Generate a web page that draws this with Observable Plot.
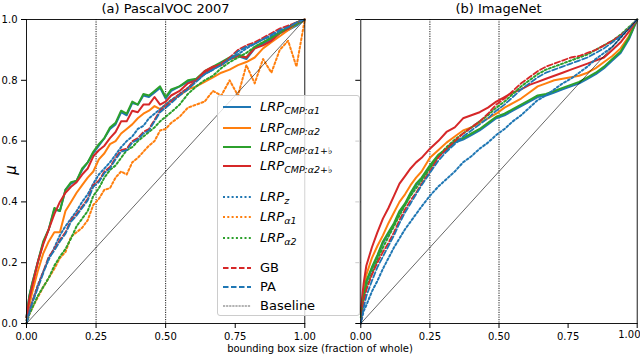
<!DOCTYPE html>
<html><head><meta charset="utf-8">
<script src="https://cdn.jsdelivr.net/npm/d3@7"></script>
<script src="https://cdn.jsdelivr.net/npm/@observablehq/plot@0.6"></script>
<style>
body{margin:0;background:#fff;font-family:"DejaVu Sans",sans-serif;}
#wrap{position:relative;width:640px;height:357px;overflow:hidden;background:#fff;}
.ttl{font-size:13px;text-align:center;line-height:16px;color:#000;}
.leg{position:absolute;left:217px;top:95px;width:143px;height:221px;background:rgba(255,255,255,0.8);border:1px solid #ccc;border-radius:3px;box-sizing:border-box;}
.row{position:absolute;left:0;height:20px;width:140px;}
.row svg{position:absolute;left:4px;top:0;}
.row span{position:absolute;left:42px;top:2px;font-size:13px;line-height:16px;white-space:nowrap;color:#000;}
.row sub{font-size:9.5px;vertical-align:-3px;line-height:0;}
</style></head><body><div id="wrap"></div>
<script>
// ---------- data ----------
const xTicks = [0, 0.25, 0.5, 0.75, 1.0];
const yTicks = [0, 0.2, 0.4, 0.6, 0.8, 1.0];
const refX = [0.25, 0.5];
const baseline = [0, 1];

const xVOC = [0,0.01,0.02,0.04,0.06,0.08,0.10,0.12,0.14,0.16,0.18,0.20,0.22,0.24,0.26,0.28,0.30,0.32,0.34,0.36,0.38,0.40,0.42,0.44,0.46,0.48,0.50,0.52,0.55,0.58,0.61,0.64,0.67,0.70,0.73,0.76,0.79,0.82,0.85,0.88,0.91,0.94,0.97,1.0];
const vocCmpA1  = [0.02,0.09,0.13,0.20,0.265,0.31,0.375,0.37,0.44,0.46,0.47,0.505,0.53,0.56,0.585,0.61,0.64,0.655,0.695,0.685,0.725,0.72,0.75,0.745,0.76,0.775,0.74,0.765,0.78,0.795,0.80,0.825,0.84,0.855,0.87,0.88,0.87,0.905,0.92,0.935,0.955,0.965,0.98,1.0];
const vocCmpA2  = [0.01,0.06,0.10,0.17,0.23,0.27,0.30,0.30,0.37,0.40,0.43,0.455,0.48,0.50,0.54,0.56,0.59,0.60,0.625,0.64,0.655,0.675,0.69,0.70,0.715,0.705,0.72,0.735,0.75,0.77,0.78,0.795,0.81,0.825,0.835,0.85,0.86,0.875,0.905,0.925,0.945,0.965,0.985,1.0];
const vocCmpA1f = [0.02,0.09,0.13,0.20,0.27,0.31,0.38,0.37,0.44,0.465,0.47,0.51,0.53,0.565,0.59,0.61,0.645,0.66,0.70,0.69,0.73,0.72,0.755,0.75,0.765,0.78,0.745,0.77,0.78,0.80,0.805,0.83,0.845,0.86,0.875,0.885,0.875,0.91,0.925,0.94,0.96,0.97,0.985,1.0];
const vocCmpA2f = [0.02,0.08,0.12,0.20,0.26,0.31,0.36,0.40,0.43,0.45,0.465,0.49,0.51,0.55,0.57,0.585,0.61,0.63,0.665,0.665,0.70,0.695,0.72,0.72,0.745,0.72,0.73,0.75,0.765,0.79,0.80,0.83,0.845,0.85,0.87,0.88,0.875,0.905,0.915,0.93,0.955,0.97,0.99,1.0];
const vocLrpZ   = [0.01,0.04,0.07,0.125,0.17,0.21,0.25,0.29,0.32,0.345,0.37,0.40,0.425,0.46,0.49,0.51,0.53,0.555,0.58,0.60,0.615,0.64,0.65,0.675,0.69,0.705,0.72,0.735,0.755,0.775,0.80,0.82,0.835,0.855,0.87,0.885,0.905,0.92,0.935,0.945,0.96,0.975,0.99,1.0];
const vocLrpA1  = [0.0,0.03,0.05,0.085,0.12,0.15,0.18,0.215,0.235,0.285,0.30,0.315,0.34,0.39,0.41,0.44,0.445,0.48,0.50,0.49,0.53,0.545,0.565,0.585,0.60,0.635,0.64,0.66,0.68,0.71,0.72,0.73,0.765,0.75,0.80,0.75,0.85,0.79,0.87,0.825,0.90,0.93,0.845,1.0];
const vocLrpA2  = [0.0,0.03,0.05,0.09,0.12,0.15,0.19,0.22,0.245,0.28,0.32,0.345,0.37,0.42,0.445,0.48,0.505,0.52,0.545,0.57,0.58,0.60,0.615,0.63,0.645,0.665,0.68,0.695,0.72,0.755,0.78,0.80,0.815,0.84,0.86,0.875,0.89,0.91,0.925,0.94,0.955,0.975,0.99,1.0];
const vocGB     = [0.0,0.04,0.07,0.12,0.17,0.22,0.245,0.275,0.30,0.34,0.36,0.385,0.41,0.455,0.47,0.50,0.515,0.545,0.57,0.575,0.60,0.61,0.63,0.64,0.67,0.70,0.715,0.73,0.755,0.775,0.80,0.825,0.84,0.855,0.875,0.90,0.915,0.925,0.94,0.955,0.97,0.98,0.99,1.0];
const vocPA     = [0.0,0.035,0.065,0.115,0.165,0.215,0.24,0.27,0.295,0.335,0.355,0.38,0.405,0.45,0.465,0.495,0.51,0.54,0.565,0.57,0.595,0.605,0.625,0.635,0.665,0.695,0.71,0.725,0.75,0.77,0.795,0.82,0.835,0.85,0.87,0.895,0.91,0.92,0.935,0.95,0.965,0.975,0.99,1.0];

const xIN = [0,0.01,0.02,0.04,0.06,0.08,0.10,0.12,0.14,0.16,0.18,0.20,0.22,0.25,0.28,0.31,0.34,0.37,0.40,0.43,0.46,0.49,0.52,0.55,0.58,0.61,0.64,0.67,0.70,0.73,0.76,0.79,0.82,0.85,0.88,0.91,0.94,0.97,1.0];
const inCmpA1  = [0.03,0.09,0.135,0.18,0.22,0.265,0.295,0.325,0.365,0.39,0.425,0.455,0.475,0.515,0.55,0.57,0.595,0.605,0.62,0.635,0.655,0.675,0.685,0.70,0.715,0.73,0.745,0.75,0.76,0.77,0.78,0.79,0.805,0.82,0.84,0.865,0.89,0.935,1.0];
const inCmpA2  = [0.03,0.11,0.16,0.215,0.255,0.29,0.33,0.365,0.40,0.425,0.455,0.48,0.50,0.545,0.57,0.595,0.615,0.635,0.645,0.66,0.675,0.69,0.71,0.725,0.74,0.76,0.78,0.79,0.80,0.805,0.81,0.815,0.825,0.84,0.86,0.88,0.905,0.945,1.0];
const inCmpA1f = [0.03,0.09,0.14,0.185,0.225,0.27,0.30,0.33,0.37,0.395,0.43,0.46,0.48,0.52,0.555,0.575,0.60,0.61,0.625,0.64,0.66,0.68,0.69,0.705,0.72,0.735,0.75,0.755,0.765,0.775,0.785,0.795,0.81,0.825,0.845,0.87,0.895,0.94,1.0];
const inCmpA2f = [0.04,0.13,0.19,0.25,0.30,0.345,0.38,0.42,0.46,0.485,0.51,0.53,0.545,0.575,0.60,0.63,0.645,0.675,0.685,0.695,0.71,0.73,0.745,0.76,0.77,0.785,0.795,0.805,0.815,0.825,0.835,0.845,0.855,0.865,0.875,0.90,0.925,0.96,1.0];
const inLrpZ   = [0.0,0.04,0.06,0.105,0.14,0.18,0.215,0.25,0.28,0.31,0.335,0.36,0.385,0.42,0.45,0.475,0.50,0.53,0.55,0.575,0.595,0.62,0.64,0.665,0.685,0.71,0.735,0.75,0.77,0.79,0.805,0.825,0.845,0.87,0.89,0.91,0.94,0.97,1.0];
const inLrpA1  = null; // not visible in panel (b)
const inLrpA2  = [0.02,0.08,0.12,0.165,0.21,0.25,0.285,0.32,0.355,0.39,0.42,0.445,0.47,0.51,0.55,0.58,0.605,0.625,0.645,0.665,0.685,0.71,0.73,0.755,0.78,0.80,0.82,0.835,0.845,0.855,0.865,0.875,0.885,0.90,0.915,0.93,0.95,0.975,1.0];
const inGB     = [0.0,0.07,0.11,0.16,0.20,0.235,0.265,0.30,0.34,0.375,0.405,0.43,0.46,0.50,0.545,0.575,0.60,0.625,0.645,0.665,0.69,0.72,0.74,0.765,0.79,0.81,0.83,0.845,0.855,0.865,0.875,0.88,0.89,0.90,0.915,0.93,0.948,0.97,1.0];
const inPA     = [0.0,0.05,0.09,0.14,0.185,0.22,0.255,0.29,0.33,0.365,0.395,0.425,0.455,0.495,0.535,0.565,0.59,0.615,0.635,0.655,0.675,0.70,0.72,0.745,0.77,0.79,0.81,0.825,0.835,0.845,0.855,0.865,0.875,0.89,0.905,0.925,0.945,0.97,1.0];

const seriesColors = ["#1f77b4","#ff7f0e","#2ca02c","#d62728","#1f77b4","#ff7f0e","#2ca02c","#d62728","#1f77b4"];
const seriesStyles = ["solid","solid","solid","solid","dotted","dotted","dotted","dashed","dashed"];
const legendMain = ["LRP","LRP","LRP","LRP","LRP","LRP","LRP","GB","PA","Baseline"];
const legendSub  = ["CMP:α1","CMP:α2","CMP:α1+♭","CMP:α2+♭","z","α1","α2","","",""];
const panelTitles = ["(a) PascalVOC 2007","(b) ImageNet"];
const xLabel = "bounding box size (fraction of whole)";
const yLabel = "μ";

const vocSeries = [vocCmpA1,vocCmpA2,vocCmpA1f,vocCmpA2f,vocLrpZ,vocLrpA1,vocLrpA2,vocGB,vocPA];
const inSeries  = [inCmpA1,inCmpA2,inCmpA1f,inCmpA2f,inLrpZ,inLrpA1,inLrpA2,inGB,inPA];

// ---------- drawing ----------
const dashes = {solid: undefined, dotted: "2,2.3", dashed: "5.5,2.5"};
const widths = {solid: 2, dotted: 2, dashed: 1.8};
const fmtX = d3.format(".2f");

function panel(xs, series, opts) {
  const marks = [];
  marks.push(Plot.ruleX(refX, {x: d => d, stroke: "#000", strokeWidth: 0.9, strokeDasharray: "1.2,1.2"}));
  series.forEach((ys, i) => {
    if (!ys) return;
    const data = xs.map((x, j) => ({x, y: ys[j]}));
    const o = {x: "x", y: "y", stroke: seriesColors[i], strokeWidth: widths[seriesStyles[i]]};
    if (dashes[seriesStyles[i]]) o.strokeDasharray = dashes[seriesStyles[i]];
    marks.push(Plot.line(data, o));
  });
  marks.push(Plot.line(baseline, {x: d => d, y: d => d, stroke: "#000", strokeWidth: 0.6}));
  marks.push(Plot.frame({stroke: "#000", strokeWidth: 0.9}));
  const last = xTicks[xTicks.length - 1];
  marks.push(Plot.axisX({ticks: xTicks, tickFormat: d => (opts.shiftLast && d === last) ? "" : fmtX(d), tickSize: 5, tickPadding: 4, label: null}));
  if (opts.shiftLast) {
    marks.push(Plot.text([last], {x: d => d, frameAnchor: "bottom", text: d => fmtX(d), textAnchor: "end", dx: 3.3, dy: 14, fill: "#000"}));
  }
  marks.push(Plot.axisY({ticks: yTicks, tickFormat: opts.yLabels ? d3.format(".1f") : () => "", tickSize: 5, tickPadding: 4, label: null}));
  return Plot.plot({
    width: opts.width, height: 345,
    marginLeft: opts.ml, marginRight: opts.mr, marginTop: 19, marginBottom: 22,
    x: {domain: [0, 1]}, y: {domain: [0, 1]},
    style: {fontFamily: "DejaVu Sans", fontSize: "10px", color: "#000", background: "transparent", overflow: "visible"},
    marks
  });
}

const wrap = document.getElementById("wrap");
function place(el, left, top) { el.style.position = "absolute"; el.style.left = left + "px"; el.style.top = top + "px"; wrap.appendChild(el); return el; }

place(panel(xVOC, vocSeries, {width: 320, ml: 26, mr: 15.7, yLabels: true}), 0, 0);
place(panel(xIN, inSeries, {width: 310, ml: 30.3, mr: 3.3, yLabels: false, shiftLast: true}), 330, 0);

// titles
[[0, 331], [360, 277]].forEach(([l, w], i) => {
  const d = document.createElement("div"); d.className = "ttl"; d.textContent = panelTitles[i];
  d.style.width = w + "px"; place(d, l, 1);
});
// x label
const xl = document.createElement("div");
xl.textContent = xLabel; xl.style.cssText = "font-size:10px;width:640px;text-align:center;line-height:12px;";
place(xl, 0, 343);
// y label
const yl = document.createElement("div");
yl.textContent = yLabel;
yl.style.cssText = "font-size:15px;font-style:italic;transform:rotate(-90deg);transform-origin:center;width:20px;text-align:center;line-height:18px;";
place(yl, 1, 161);

// legend
const leg = document.createElement("div"); leg.className = "leg"; wrap.appendChild(leg);
const rowTops = [10.7, 31.7, 50.7, 70, 101, 121, 141.7, 171.7, 191, 210];
const legStyles = seriesStyles.concat(["base"]);
const legColors = seriesColors.concat(["#000"]);
legendMain.forEach((m, i) => {
  const r = document.createElement("div"); r.className = "row"; r.style.top = (rowTops[i] - 10) + "px";
  const st = legStyles[i];
  let da = st === "dotted" ? "2,2.3" : st === "dashed" ? "5.5,2.5" : st === "base" ? "2.2,0.9" : "";
  let sw = st === "base" ? 0.6 : widths[st];
  r.innerHTML = `<svg width="32" height="20"><line x1="1" x2="29" y1="10" y2="10" stroke="${legColors[i]}" stroke-width="${sw}" ${da ? `stroke-dasharray="${da}"` : ""}/></svg>`;
  const sp = document.createElement("span");
  if (legendSub[i]) {
    sp.innerHTML = `<i>${m}</i><sub><i>${legendSub[i]}</i></sub>`;
  } else sp.textContent = m;
  r.appendChild(sp);
  leg.appendChild(r);
});
</script></body></html>
